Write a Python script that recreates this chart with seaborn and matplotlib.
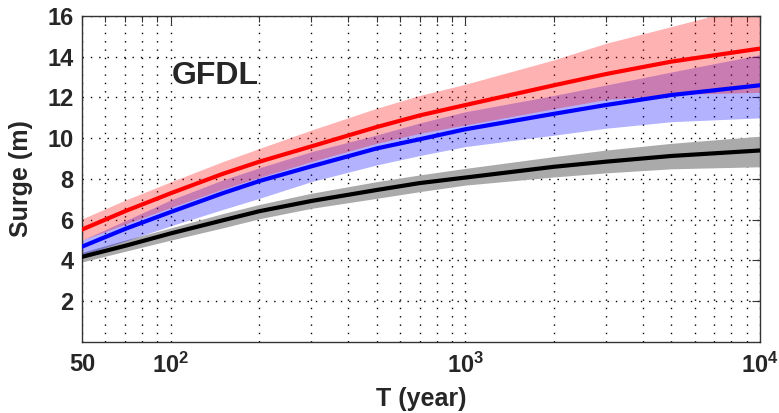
import numpy as np
import pandas as pd
import matplotlib
matplotlib.use("Agg")
import matplotlib.pyplot as plt
import matplotlib.ticker as mticker
import seaborn as sns

# return period (years) and surge curves
T = [50, 70, 100, 150, 200, 300, 500, 700, 1000, 2000, 3000, 5000, 10000]

red = [5.52, 6.42, 7.3, 8.25, 8.85, 9.6, 10.55, 11.12, 11.63, 12.6, 13.15, 13.76, 14.4]
red_lo = [5.0, 5.78, 6.6, 7.5, 8.08, 8.85, 9.75, 10.24, 10.65, 11.45, 11.9, 12.15, 12.25]
red_hi = [6.04, 6.96, 7.86, 8.85, 9.5, 10.4, 11.47, 12.1, 12.65, 13.85, 14.66, 15.48, 16.6]

blue = [4.68, 5.55, 6.38, 7.3, 7.9, 8.62, 9.5, 9.95, 10.44, 11.2, 11.63, 12.12, 12.6]
blue_lo = [4.27, 4.95, 5.7, 6.5, 7.05, 7.87, 8.69, 9.15, 9.59, 10.15, 10.49, 10.81, 11.0]
blue_hi = [5.0, 5.95, 6.97, 7.95, 8.55, 9.34, 10.16, 10.75, 11.3, 12.1, 12.61, 13.25, 14.1]

black = [4.18, 4.72, 5.33, 5.97, 6.42, 6.92, 7.46, 7.8, 8.07, 8.6, 8.85, 9.13, 9.4]
black_lo = [3.93, 4.45, 5.0, 5.6, 6.05, 6.56, 7.05, 7.38, 7.7, 8.1, 8.3, 8.5, 8.6]
black_hi = [4.4, 5.0, 5.6, 6.3, 6.75, 7.3, 7.87, 8.2, 8.52, 9.1, 9.42, 9.75, 10.1]

xtick_vals = [50, 100, 1000, 10000]
xtick_labels = ['50', r'$\mathbf{10^2}$', r'$\mathbf{10^3}$', r'$\mathbf{10^4}$']
ytick_vals = [2, 4, 6, 8, 10, 12, 14, 16]

sns.set_style("white")
plt.rcParams['font.family'] = ['Liberation Sans', 'DejaVu Sans']
plt.rcParams['mathtext.fontset'] = 'custom'
plt.rcParams['mathtext.rm'] = 'Liberation Sans'
plt.rcParams['mathtext.bf'] = 'Liberation Sans:bold'

df = pd.DataFrame({'T': T, 'red': red, 'blue': blue, 'black': black})

fig = plt.figure(figsize=(7.79, 4.13), dpi=100)
ax = fig.add_axes([0.1053, 0.1719, 0.8703, 0.7894])

# uncertainty bands
ax.fill_between(T, black_lo, black_hi, color='#aaaaaa', lw=0, zorder=2)
ax.fill_between(T, blue_lo, blue_hi, color='#0000ff', alpha=0.3, lw=0, zorder=2)
ax.fill_between(T, red_lo, red_hi, color='#ff0000', alpha=0.3, lw=0, zorder=2)

sns.lineplot(data=df, x='T', y='black', color='black', lw=3, ax=ax, zorder=3)
sns.lineplot(data=df, x='T', y='blue', color='#0000ff', lw=3, ax=ax, zorder=3)
sns.lineplot(data=df, x='T', y='red', color='#ff0000', lw=3, ax=ax, zorder=3)

ax.set_xscale('log')
ax.set_xlim(50, 10000)
ax.set_ylim(0, 16)

ax.xaxis.set_major_locator(mticker.FixedLocator(xtick_vals))
ax.xaxis.set_major_formatter(mticker.FixedFormatter(xtick_labels))
ax.xaxis.set_minor_locator(mticker.LogLocator(base=10, subs=np.arange(2, 10)))
ax.xaxis.set_minor_formatter(mticker.NullFormatter())
ax.set_yticks(ytick_vals)

ax.grid(True, which='both', axis='x', linestyle=(0, (1, 5)), color='black', lw=1.0)
ax.grid(True, which='major', axis='y', linestyle=(0, (1, 5)), color='black', lw=1.0)
ax.set_axisbelow(True)

ax.tick_params(which='both', direction='in', top=True, right=True, color='#333333')
ax.tick_params(which='major', length=6, width=0.8, labelsize=17)
ax.tick_params(axis='x', which='major', pad=8)
ax.tick_params(axis='y', which='major', pad=6)
ax.tick_params(which='minor', length=4, width=0.8)
for lab in ax.get_yticklabels() + ax.get_xticklabels():
    lab.set_fontweight('bold')

for s in ax.spines.values():
    s.set_color('#333333')
    s.set_linewidth(1.0)

ax.set_xlabel('T (year)', fontsize=18, fontweight='bold', labelpad=6)
ax.set_ylabel('Surge (m)', fontsize=18, fontweight='bold', labelpad=10)

ax.text(0.132, 0.815, 'GFDL', transform=ax.transAxes, fontsize=23,
        fontweight='bold', ha='left', va='center')

fig.savefig('out.png', dpi=100)
